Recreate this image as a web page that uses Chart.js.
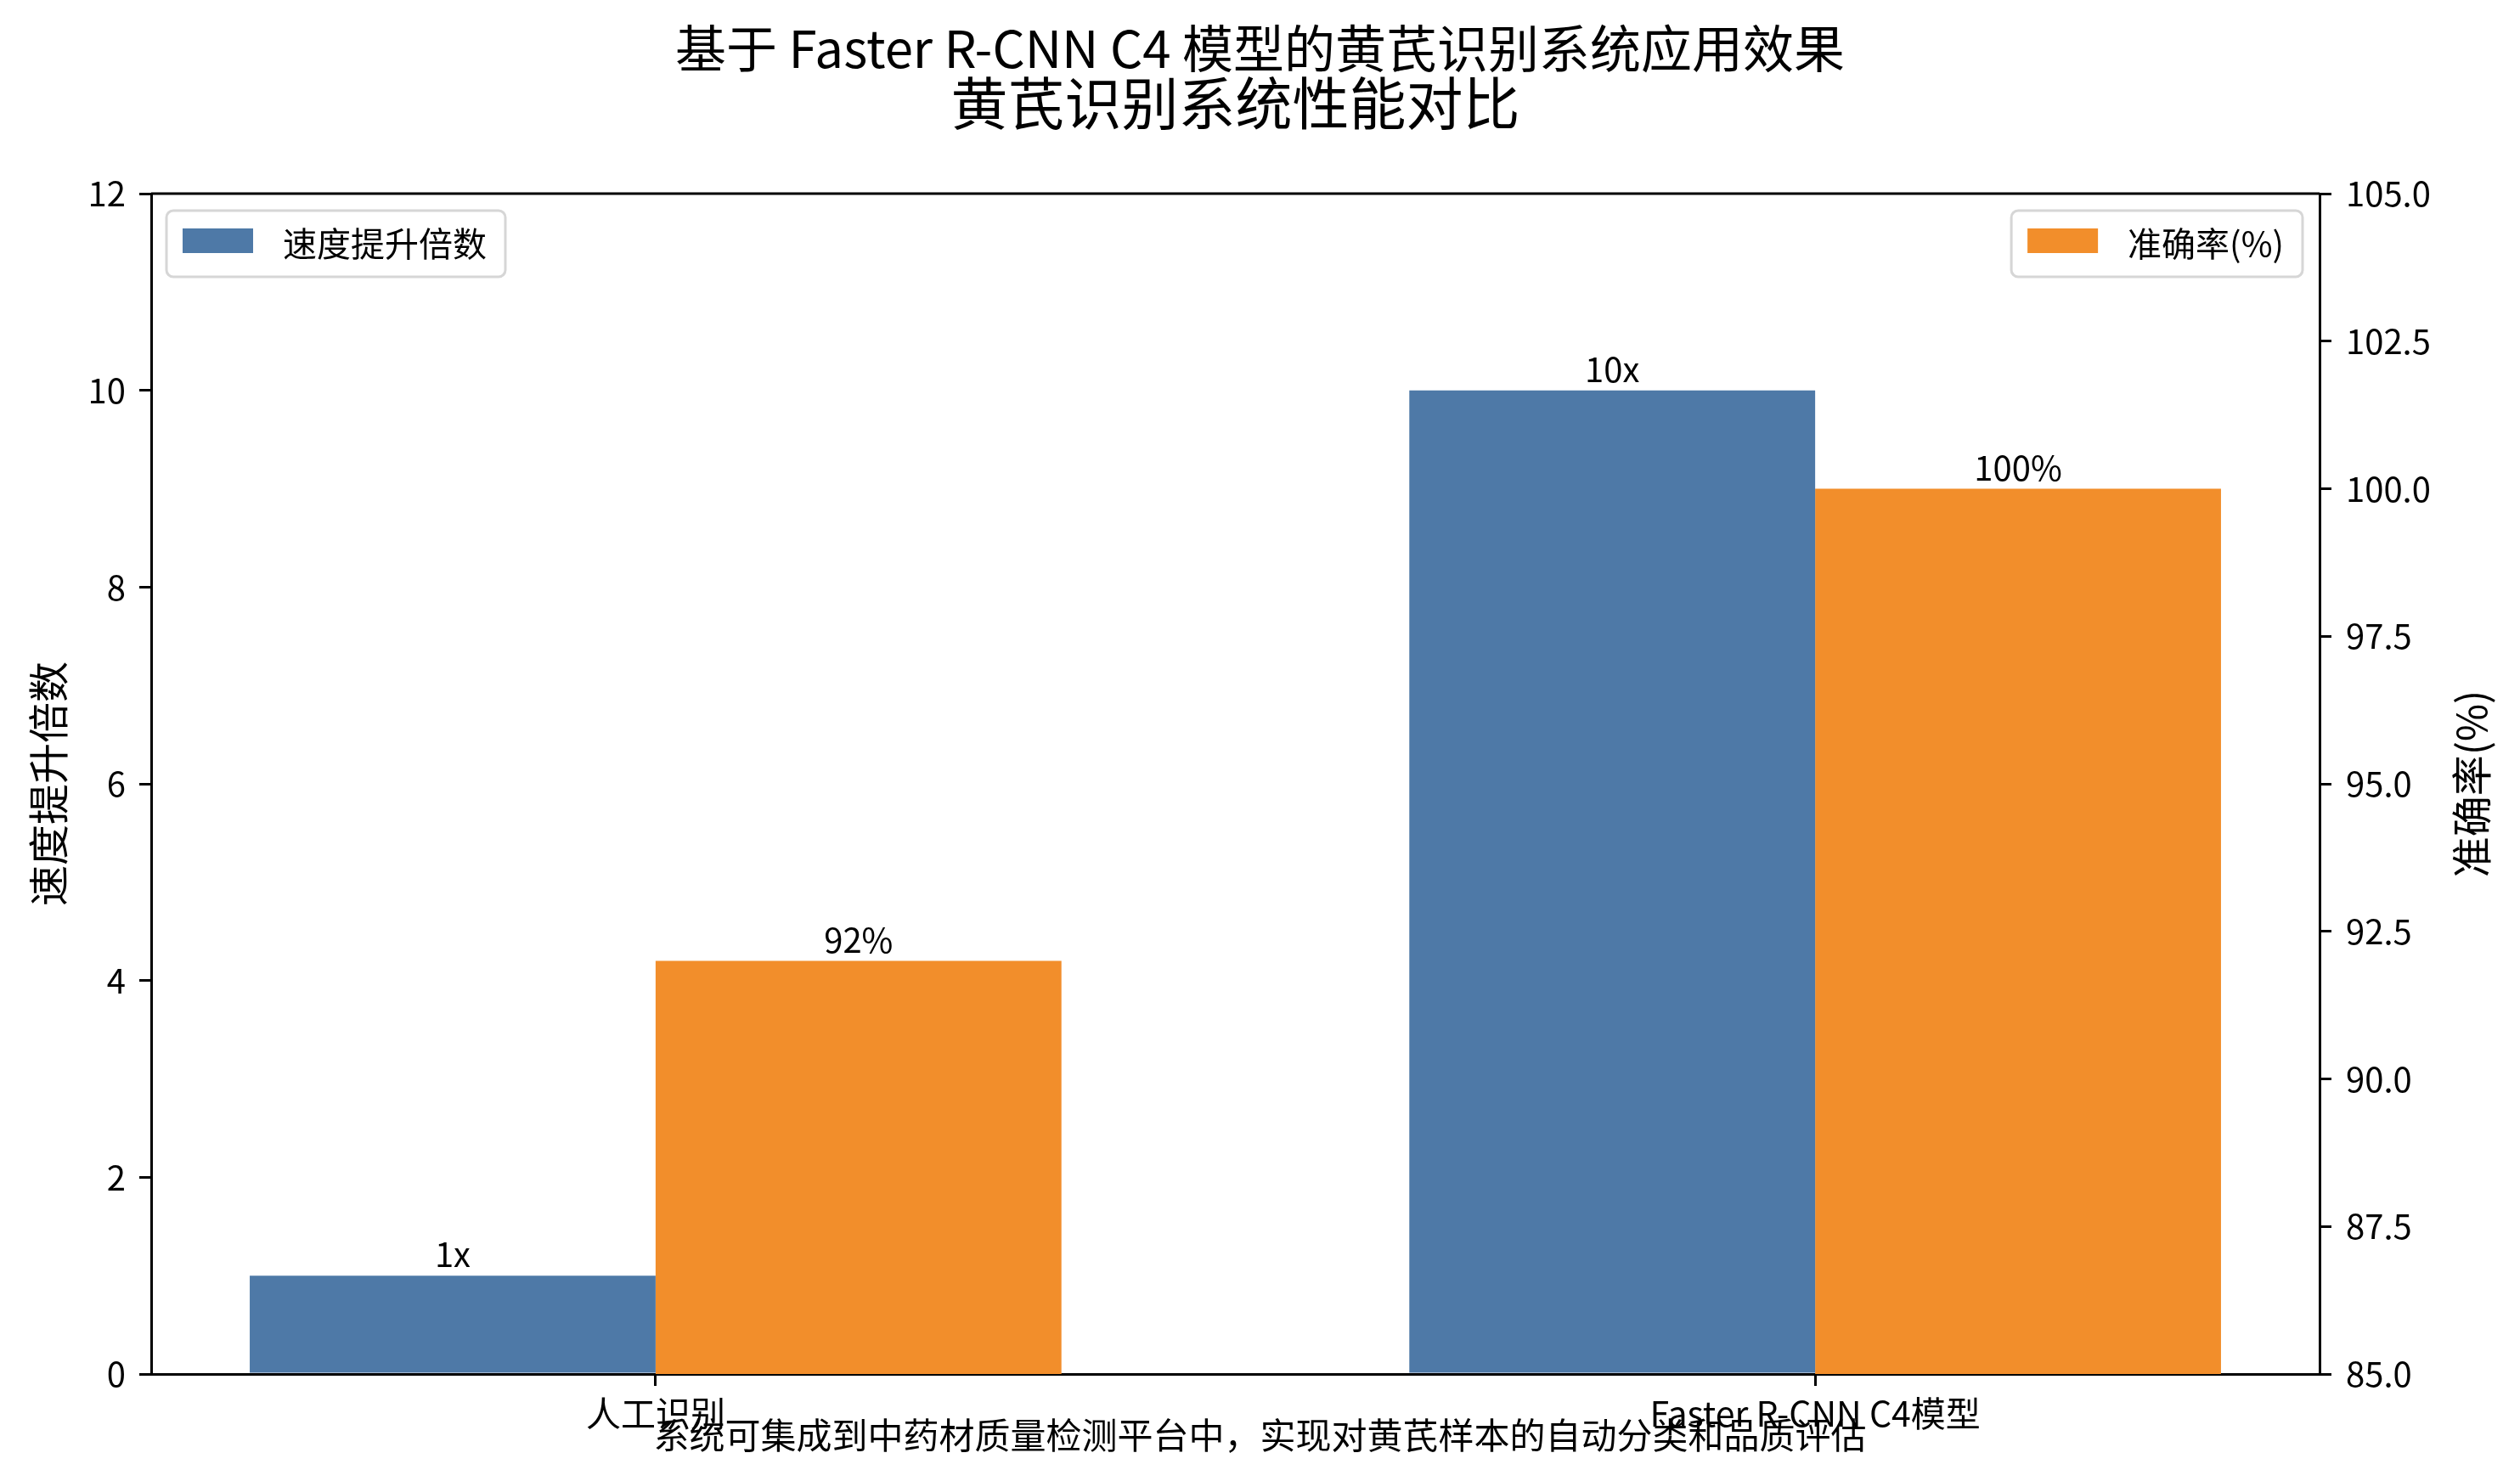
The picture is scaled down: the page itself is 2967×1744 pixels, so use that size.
<!DOCTYPE html>
<html lang="zh">
<head>
  <meta charset="UTF-8">
  <title>黄芪识别系统性能对比</title>
  <style>
    html, body { margin: 0; padding: 0; background: #fff; }
    #wrap { width: 2967px; height: 1744px; }
  </style>
</head>
<body>
  <div id="wrap">
    <canvas id="canvas" width="2967" height="1744"></canvas>
  </div>
  <script src="https://cdn.jsdelivr.net/npm/chart.js"></script>
  <script type="application/javascript">
    // data
    const categories = ['人工识别', 'Faster R-CNN C4模型'];
    const speedUp = [1, 10];
    const accuracy = [92, 100];
    const speedLabels = ['1x', '10x'];
    const accLabels = ['92%', '100%'];
    const leftTicks = [0, 2, 4, 6, 8, 10, 12];
    const rightTicks = [85.0, 87.5, 90.0, 92.5, 95.0, 97.5, 100.0, 102.5, 105.0];

    const suptitle = '基于 Faster R-CNN C4 模型的黄芪识别系统应用效果';
    const title = '黄芪识别系统性能对比';
    const caption = '系统可集成到中药材质量检测平台中，实现对黄芪样本的自动分类和品质评估';
    const leftAxisTitle = '速度提升倍数';
    const rightAxisTitle = '准确率(%)';

    const FONT = '"Noto Sans CJK SC", "Noto Sans", sans-serif';
    const BLUE = '#4e79a7';
    const ORANGE = '#f28e2b';

    const canvas = document.querySelector('canvas');
    const W = 2967, H = 1744;

    function drawLegend(ctx, item, x, y, alignRight) {
      ctx.save();
      ctx.font = '40px ' + FONT;
      const tw = ctx.measureText(item.text).width;
      const boxW = 19 + 83 + 35 + tw + 22;
      const boxH = 78;
      const bx = alignRight ? x - boxW : x;
      ctx.fillStyle = 'rgba(255,255,255,0.8)';
      ctx.strokeStyle = '#d6d6d6';
      ctx.lineWidth = 3;
      ctx.beginPath();
      ctx.roundRect(bx, y, boxW, boxH, 8);
      ctx.fill();
      ctx.stroke();
      ctx.fillStyle = item.color;
      ctx.fillRect(bx + 19, y + 21, 83, 29);
      ctx.fillStyle = '#000';
      ctx.textAlign = 'left';
      ctx.textBaseline = 'middle';
      ctx.fillText(item.text, bx + 19 + 83 + 35, y + boxH / 2);
      ctx.restore();
    }

    const decorPlugin = {
      id: 'decor',
      afterDatasetsDraw(chart) {
        const ctx = chart.ctx;
        // value labels above bars
        const labelSets = [speedLabels, accLabels];
        ctx.save();
        ctx.font = '40px ' + FONT;
        ctx.fillStyle = '#000';
        ctx.textAlign = 'center';
        ctx.textBaseline = 'alphabetic';
        chart.data.datasets.forEach((ds, di) => {
          chart.getDatasetMeta(di).data.forEach((bar, i) => {
            ctx.fillText(labelSets[di][i], bar.x, bar.y - 10);
          });
        });
        ctx.restore();
      },
      afterDraw(chart) {
        const ctx = chart.ctx;
        const area = chart.chartArea;
        ctx.save();
        // top spine
        ctx.strokeStyle = '#000';
        ctx.lineWidth = 3;
        ctx.beginPath();
        ctx.moveTo(area.left, area.top);
        ctx.lineTo(area.right, area.top);
        ctx.stroke();

        ctx.fillStyle = '#000';
        ctx.textAlign = 'center';
        ctx.textBaseline = 'middle';
        ctx.font = '60px ' + FONT;
        ctx.fillText(suptitle, W / 2, 57);
        // axes title is centred over the plot area
        ctx.font = '67px ' + FONT;
        ctx.fillText(title, (area.left + area.right) / 2, 122);

        ctx.font = '42px ' + FONT;
        ctx.fillText(caption, W / 2, 1690);

        // axis titles, both reading bottom to top
        const midY = (area.top + area.bottom) / 2;
        ctx.font = '48px ' + FONT;
        ctx.save();
        ctx.translate(57, midY);
        ctx.rotate(-Math.PI / 2);
        ctx.fillText(leftAxisTitle, 0, 0);
        ctx.restore();
        ctx.save();
        ctx.translate(2910, midY);
        ctx.rotate(-Math.PI / 2);
        ctx.fillText(rightAxisTitle, 0, 0);
        ctx.restore();
        ctx.restore();

        drawLegend(ctx, { text: chart.data.datasets[0].label, color: BLUE }, area.left + 18, area.top + 20, false);
        drawLegend(ctx, { text: chart.data.datasets[1].label, color: ORANGE }, area.right - 20, area.top + 20, true);
      }
    };

    const tickGrid = {
      display: true,
      offset: false,
      drawOnChartArea: false,
      drawTicks: true,
      tickLength: 14,
      tickWidth: 3,
      color: '#000',
      lineWidth: 3
    };

    const data = {
      datasets: [{
        label: leftAxisTitle,
        data: speedUp.map((v, i) => ({ x: i, y: v })),
        backgroundColor: BLUE,
        yAxisID: 'y'
      }, {
        label: rightAxisTitle,
        data: accuracy.map((v, i) => ({ x: i, y: v })),
        backgroundColor: ORANGE,
        yAxisID: 'y1'
      }]
    };

    const config = {
      type: 'bar',
      data: data,
      options: {
        responsive: false,
        animation: false,
        devicePixelRatio: 1,
        layout: { padding: { top: 228, left: 0, right: 0, bottom: 0 } },
        datasets: { bar: { categoryPercentage: 0.7, barPercentage: 1.0 } },
        plugins: {
          legend: { display: false },
          title: { display: false },
          tooltip: { enabled: false }
        },
        scales: {
          x: {
            type: 'linear',
            offset: false,
            min: -0.435,
            max: 1.435,
            z: 1,
            grid: tickGrid,
            border: { display: true, color: '#000', width: 3 },
            afterBuildTicks: (axis) => { axis.ticks = categories.map((_, i) => ({ value: i })); },
            afterFit: (axis) => { axis.height = 126; },
            ticks: {
              autoSkip: false,
              maxRotation: 0,
              padding: 8,
              color: '#000',
              font: { family: FONT, size: 41 },
              callback: (v) => categories[v]
            }
          },
          y: {
            position: 'left',
            min: 0,
            max: 12,
            grid: tickGrid,
            border: { display: true, color: '#000', width: 3 },
            afterBuildTicks: (axis) => { axis.ticks = leftTicks.map(v => ({ value: v })); },
            afterFit: (axis) => { axis.width = 178; },
            ticks: {
              padding: 16,
              color: '#000',
              font: { family: FONT, size: 40 }
            }
          },
          y1: {
            position: 'right',
            min: 85,
            max: 105,
            grid: tickGrid,
            border: { display: true, color: '#000', width: 3 },
            afterBuildTicks: (axis) => { axis.ticks = rightTicks.map(v => ({ value: v })); },
            afterFit: (axis) => { axis.width = W - 2731; },
            ticks: {
              padding: 17,
              color: '#000',
              font: { family: FONT, size: 40 },
              callback: (v) => Number(v).toFixed(1)
            }
          }
        }
      },
      plugins: [decorPlugin]
    };

    const myChart = new Chart(canvas, config);
  </script>
</body>
</html>
